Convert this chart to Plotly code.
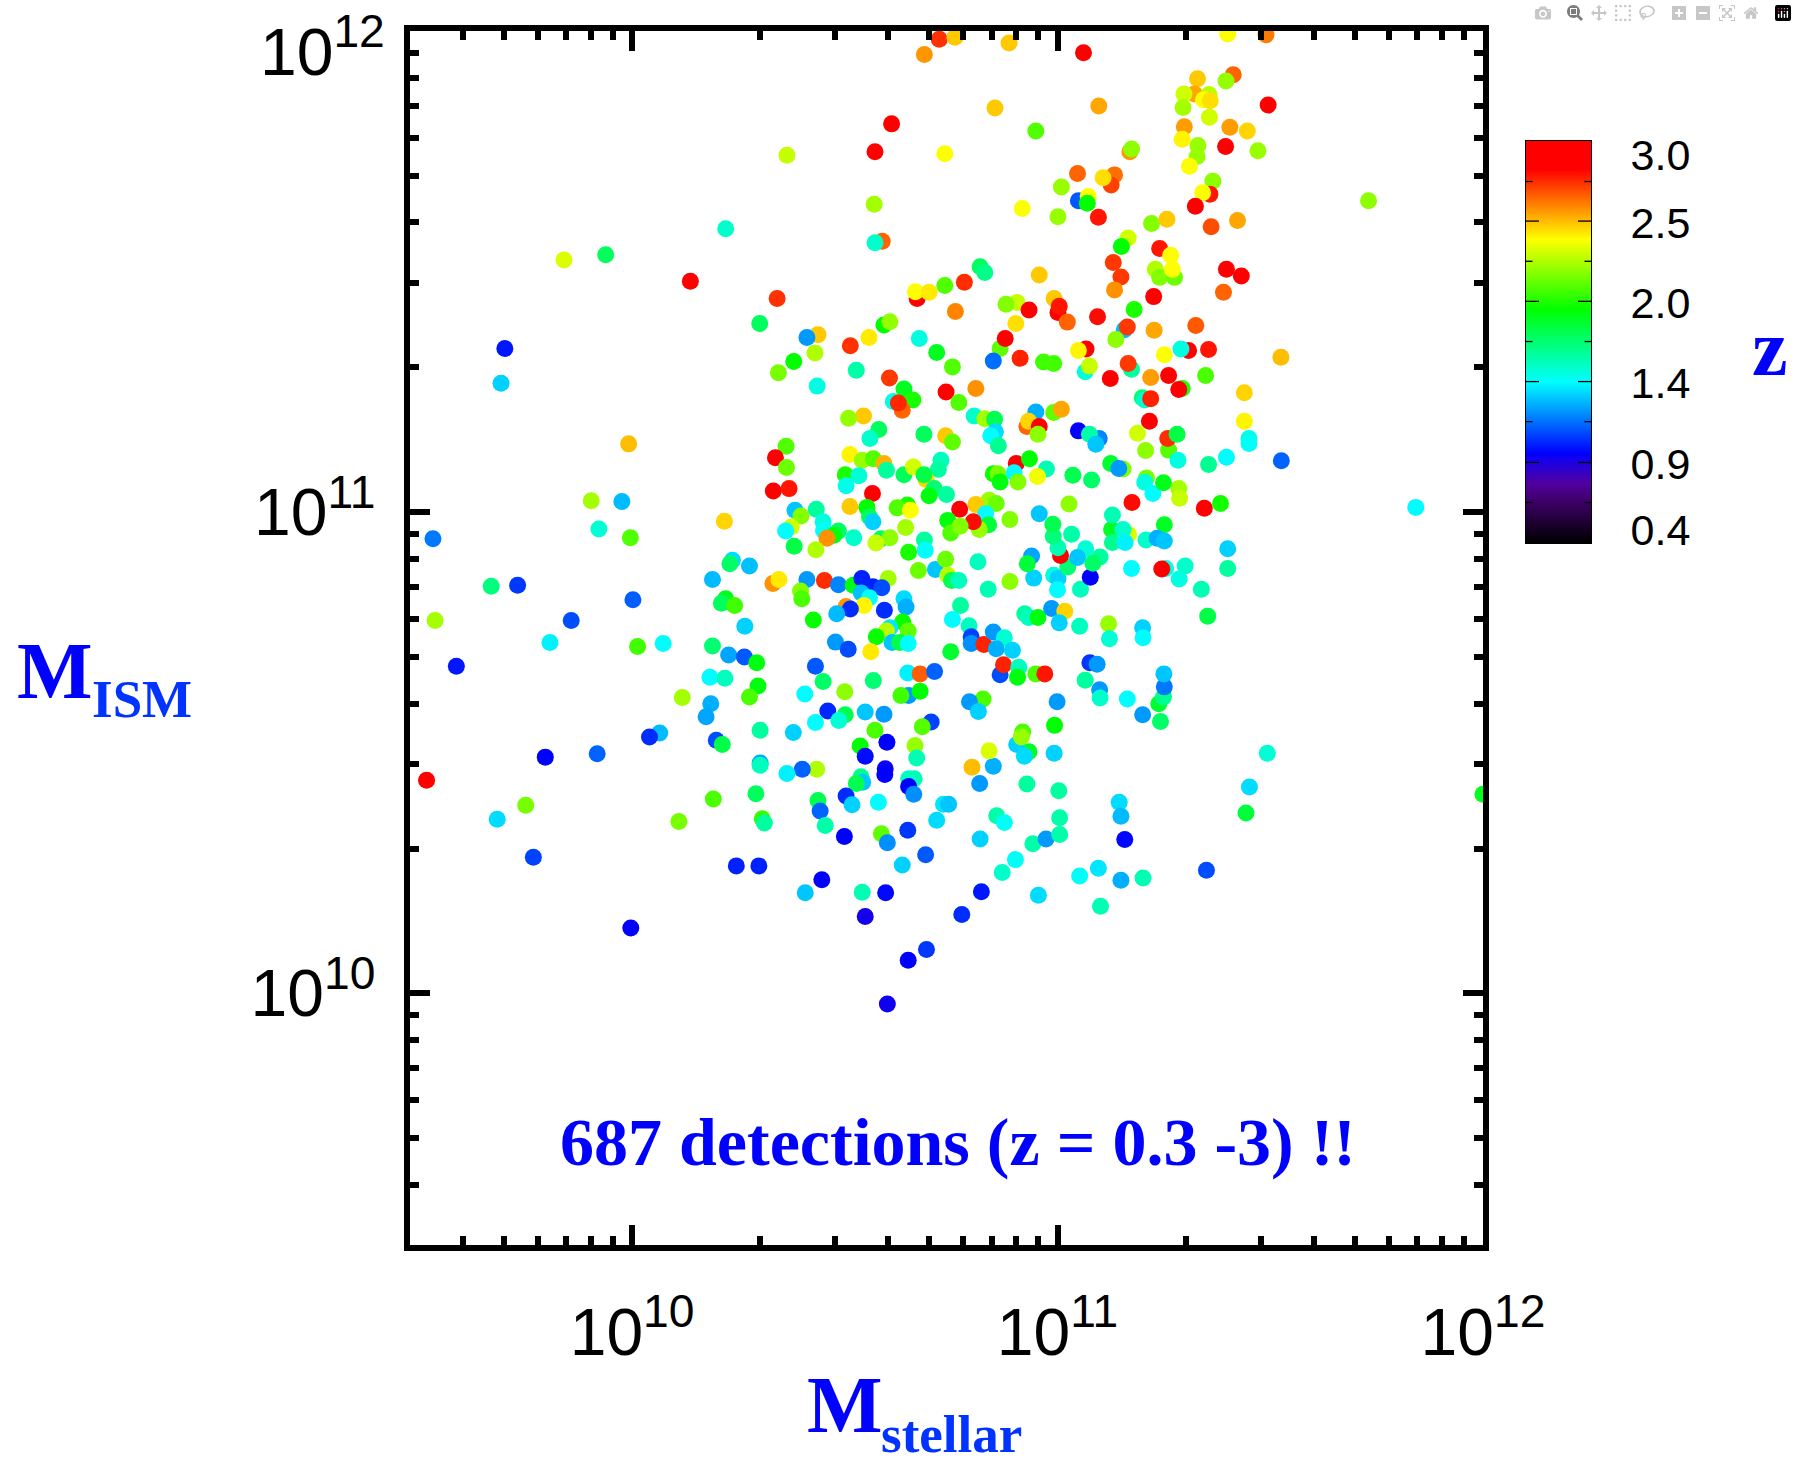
import math
import plotly.graph_objects as go

lm_ul = [10.722,10.759,10.687,10.610,10.571,10.735,10.364,10.569,10.220,10.588,
         10.571,9.938,9.840,10.137,10.341,10.670,10.666,10.698,10.735,10.300,
         10.592,10.606,10.437,10.411,10.513,10.557,10.675,10.760,9.701,10.430,
         10.380,10.344,10.527,9.692,10.435,10.716,10.753,10.605,10.639,10.660,
         10.614,10.635,10.626,10.738,10.768,10.544,10.509,10.580,10.559,10.686,
         10.737,10.753,9.992,10.362,10.337,10.363,10.512,10.541,10.567,10.592,
         10.598,10.726,10.720,10.501,10.533,10.503,10.639,10.661,10.691,10.686,
         10.710,10.698,10.739,10.332,10.369,10.565,9.904,9.976,10.383,10.433,
         10.397,10.512,10.552,10.558,10.647,10.623,10.654,10.770]
li_ul = [11.983,11.987,11.951,11.807,11.749,11.745,11.742,11.640,11.589,11.563,
         11.560,11.535,11.524,11.480,11.444,11.444,11.458,11.457,11.471,11.392,
         11.389,11.396,11.369,11.363,11.346,11.363,11.361,11.417,11.340,11.331,
         11.313,11.290,11.295,11.268,11.262,11.332,11.302,11.279,11.256,11.233,
         11.230,11.212,11.227,11.250,11.228,11.200,11.195,11.172,11.153,11.162,
         11.159,11.146,11.142,11.137,11.113,11.093,11.120,11.108,11.111,11.101,
         11.087,11.108,11.089,11.078,11.076,11.055,11.078,11.094,11.068,11.078,
         11.049,11.034,11.037,11.044,11.049,11.039,11.024,11.022,11.004,11.006,
         10.992,11.012,11.010,10.990,11.015,11.009,11.004,11.006]
z_ul = [2.73,2.46,2.55,2.85,2.85,2.36,2.26,2.20,1.54,2.64,
        1.54,1.74,2.30,2.85,2.73,2.85,2.36,2.40,2.05,1.74,
        1.91,2.17,2.46,1.26,2.73,2.40,1.50,2.58,1.02,2.22,
        1.91,2.12,1.60,1.36,1.50,1.85,2.05,2.72,1.85,1.95,
        1.48,2.64,2.75,2.85,2.05,2.46,2.17,1.74,1.54,1.74,
        2.46,2.08,2.48,2.05,2.85,2.10,2.38,2.18,2.05,2.50,
        1.62,1.56,1.62,1.95,1.52,1.48,1.74,2.28,2.44,1.78,
        1.70,1.88,1.62,2.85,2.78,2.85,2.20,1.32,1.34,1.62,
        2.14,2.46,1.91,1.74,1.95,2.05,2.36,2.85]

lm_ll = [9.532,9.922,9.996,9.669,9.731,10.002,9.537,9.857,9.807,10.013,
         10.073,9.587,9.517,9.796,9.918,9.683,9.750,9.768,9.997,10.217,
         10.449,10.374,10.361,10.450,10.485,10.474,10.458,10.381,10.432,10.521,
         10.566,10.585,10.606,10.573,10.643,10.687,10.689,10.650,10.673,10.713,
         10.737,10.742,10.751,10.768,10.742,10.749,10.236,10.230,10.276,10.189,
         10.331,10.345,10.411,10.452,10.485,10.520,10.540,10.566,10.602,10.587,
         10.396,10.399,10.539,10.558,10.503,10.545,10.513,10.593,10.481,10.639,
         10.644,10.772,10.753,10.220,10.210,10.241,10.265,10.426,10.636,10.606,
         10.598,10.649,10.574,10.611,10.629,10.649,10.478,10.508,10.561,10.749,
         10.189,10.227,10.264,10.293,10.183,10.218,10.431,10.449,10.500,10.567,
         10.296,10.276,10.118,10.406,10.185,10.174,10.650,10.648,10.677,10.711,
         10.632,10.677,10.460,10.501,10.486,10.431,10.548,10.592,10.703,10.682,
         10.571,10.301,10.379,10.065,10.041,10.198,10.212,10.599,10.665,10.536,
         10.548,10.669,10.301,10.301,10.595,10.594,10.434,10.400,10.364,10.538,
         10.542,10.527,10.663,10.650,10.650,10.291,10.191,10.437,10.442,10.503,
         10.517,10.579,10.662,10.732,10.744,10.716,10.110,10.306,10.311,10.454,
         10.586,10.600,10.499,10.648,10.690,10.635,10.245,10.298,10.446,10.407,
         10.541,10.596,10.548,10.649,10.692,10.600]
li_ll = [10.945,10.965,10.947,10.846,10.848,10.818,10.775,10.775,10.729,10.721,
         10.727,10.680,10.443,10.491,10.498,10.362,10.391,10.283,10.136,10.981,
         10.980,10.969,10.961,10.962,10.961,10.952,10.946,10.929,10.922,10.947,
         10.980,10.945,10.947,10.936,10.968,10.942,10.921,10.917,10.879,10.881,
         10.902,10.869,10.858,10.858,10.983,10.957,10.900,10.893,10.888,10.860,
         10.852,10.860,10.860,10.858,10.849,10.848,10.862,10.845,10.862,10.843,
         10.836,10.820,10.832,10.822,10.804,10.806,10.799,10.796,10.789,10.820,
         10.803,10.806,10.777,10.820,10.811,10.806,10.763,10.776,10.772,10.760,
         10.753,10.753,10.741,10.729,10.729,10.727,10.730,10.715,10.710,10.710,
         10.722,10.703,10.699,10.687,10.657,10.655,10.680,10.648,10.627,10.650,
         10.639,10.616,10.615,10.622,10.602,10.575,10.619,10.666,10.664,10.669,
         10.619,10.628,10.587,10.579,10.567,10.563,10.585,10.580,10.564,10.554,
         10.547,10.547,10.542,10.541,10.533,10.526,10.517,10.522,10.515,10.514,
         10.493,10.489,10.479,10.474,10.467,10.455,10.466,10.466,10.457,10.450,
         10.439,10.436,10.446,10.446,10.430,10.415,10.404,10.401,10.379,10.410,
         10.392,10.397,10.414,10.393,10.393,10.360,10.357,10.363,10.354,10.349,
         10.332,10.313,10.326,10.339,10.288,10.267,10.265,10.265,10.236,10.209,
         10.210,10.209,10.160,10.069,10.091,9.978]
z_ll = [1.20,1.52,2.05,1.68,1.08,1.15,2.20,1.12,1.42,2.02,
        1.45,1.02,2.85,0.98,1.16,1.38,2.12,1.10,0.98,2.44,
        1.50,2.28,1.44,1.46,1.72,1.88,2.56,1.78,2.22,1.54,
        1.36,1.72,2.16,2.26,2.20,1.62,1.44,1.95,2.10,1.34,
        2.10,2.24,1.76,1.56,1.88,2.05,1.38,1.72,1.33,1.32,
        2.56,2.40,1.26,2.74,1.22,1.88,1.04,1.04,2.20,1.12,
        2.14,2.04,1.33,1.44,2.55,2.38,1.06,1.06,1.32,1.38,
        1.30,1.62,1.44,1.86,1.74,2.02,1.36,1.92,1.92,1.40,
        2.24,2.08,1.92,1.34,1.78,1.44,1.26,1.12,2.40,1.82,
        1.70,1.28,1.14,1.88,1.44,1.56,1.14,1.72,2.16,1.70,
        1.88,2.04,2.20,1.44,1.30,1.28,1.26,1.42,2.65,1.16,
        2.02,1.90,1.05,1.76,1.52,1.44,1.34,1.26,1.10,2.06,
        2.04,1.62,1.36,1.32,1.06,1.12,1.78,0.98,2.18,1.90,
        1.00,1.58,1.28,1.56,0.96,0.98,2.22,1.16,1.42,1.64,
        1.34,1.76,1.58,1.56,0.98,1.74,2.04,1.76,1.16,1.06,
        1.36,1.44,1.24,1.40,1.34,1.38,2.12,2.00,1.62,1.60,
        2.08,1.24,0.98,1.08,1.14,1.36,1.04,1.04,0.98,1.34,
        1.58,0.99,0.94,0.98,1.08,0.95]

lm_ur = [10.886,11.061,11.400,11.490,11.413,11.396,11.329,11.322,11.356,11.297,
         11.343,11.359,11.295,11.357,10.853,11.097,11.495,10.949,11.298,11.405,
         11.446,11.293,11.330,11.395,11.471,11.328,11.310,11.170,11.174,11.047,
         11.134,11.126,11.107,11.009,11.365,11.358,11.341,11.324,11.731,11.049,
         11.072,11.070,10.917,11.001,11.096,11.221,11.257,11.423,11.361,11.166,
         11.150,11.240,11.266,11.131,11.149,11.230,11.240,11.275,11.270,11.397,
         11.432,10.818,10.829,10.781,10.957,11.134,11.390,10.992,11.001,11.004,
         11.023,11.226,10.905,10.879,10.933,11.180,11.094,10.902,11.325,11.157,
         11.164,11.227,10.865,10.877,11.137,11.067,11.049,11.308,11.290,11.355,
         11.251,11.525,10.849,10.912,10.967,10.991,11.065,11.075,11.174,11.166,
         11.219,11.124,11.261,11.348,10.808,11.293,11.285,11.439,10.804,10.829,
         10.852,11.199,11.205,11.219,10.949,10.991,11.009,10.928,10.932,10.957,
         10.954,10.854,10.843,10.861,11.216,11.439,11.049,11.098,11.075,11.090,
         11.188,11.207,11.261,11.259,11.281,11.283,11.355,11.397,11.450,11.450,
         11.526,10.903,10.934,10.974,10.953,10.849,10.860,10.898,10.865,10.907,
         11.036,11.080,11.125,11.154,11.144,11.209,11.205,11.224,11.249,11.285,
         11.287,10.839,10.856,10.808,10.831,11.027,11.175,11.345,11.383,11.842,
         10.957]
li_ur = [11.975,11.955,11.994,11.992,11.909,11.896,11.901,11.869,11.868,11.869,
         11.857,11.855,11.841,11.821,11.840,11.844,11.846,11.792,11.801,11.800,
         11.792,11.775,11.762,11.760,11.751,11.739,11.719,11.749,11.755,11.704,
         11.701,11.680,11.695,11.676,11.688,11.661,11.664,11.636,11.647,11.647,
         11.656,11.642,11.631,11.614,11.613,11.600,11.609,11.606,11.593,11.570,
         11.552,11.548,11.534,11.519,11.489,11.505,11.488,11.488,11.505,11.505,
         11.491,11.510,11.498,11.478,11.493,11.462,11.457,11.444,11.415,11.428,
         11.395,11.448,11.436,11.432,11.420,11.421,11.406,11.392,11.388,11.379,
         11.385,11.378,11.340,11.361,11.359,11.339,11.336,11.336,11.339,11.338,
         11.327,11.322,11.314,11.320,11.312,11.309,11.292,11.304,11.297,11.309,
         11.280,11.278,11.284,11.284,11.257,11.257,11.255,11.248,11.200,11.194,
         11.193,11.238,11.233,11.236,11.208,11.207,11.214,11.178,11.189,11.178,
         11.162,11.167,11.159,11.138,11.189,11.189,11.169,11.153,11.162,11.141,
         11.164,11.128,11.129,11.153,11.162,11.108,11.099,11.114,11.153,11.143,
         11.107,11.101,11.111,11.090,11.074,11.080,11.080,11.082,11.063,11.063,
         11.077,11.067,11.101,11.090,11.091,11.071,11.062,11.039,11.061,11.049,
         11.029,11.025,11.018,11.016,10.997,11.017,11.020,11.008,11.018,11.010,
         10.997]
z_ur = [2.46,2.85,2.36,2.60,2.64,2.17,2.46,2.52,2.24,2.28,
        2.36,2.42,2.20,2.28,2.46,2.52,2.85,2.05,2.54,2.54,
        2.44,2.38,2.18,2.85,2.18,2.18,2.36,2.55,2.16,2.64,
        2.62,2.70,2.42,2.18,2.16,2.78,2.36,2.85,2.16,1.14,
        2.36,1.91,2.36,2.18,2.78,2.14,2.46,2.52,2.68,2.28,
        1.90,2.78,2.36,2.72,2.72,2.22,2.14,2.10,2.36,2.82,
        2.85,1.74,1.66,2.74,2.46,2.56,2.64,2.46,2.85,2.78,
        2.64,2.85,2.26,2.14,2.85,1.95,2.80,2.42,2.66,1.32,
        2.72,2.52,2.08,2.85,2.16,2.82,2.38,2.85,1.50,2.78,
        2.36,2.48,1.18,2.76,2.02,2.02,1.52,2.26,1.62,2.72,
        2.54,2.85,2.85,2.04,2.56,1.96,2.85,2.44,1.54,2.20,
        1.76,1.70,1.54,2.76,1.30,2.08,2.52,2.64,2.44,2.85,
        2.16,1.38,1.44,1.64,2.85,2.38,0.98,1.22,1.60,1.34,
        2.28,2.16,2.06,2.74,1.78,1.50,1.64,1.44,1.48,1.46,
        1.16,2.82,1.90,1.58,2.34,1.92,2.12,1.44,1.88,2.14,
        1.76,1.72,1.82,2.14,1.26,2.12,1.50,1.44,1.86,2.20,
        2.26,2.18,2.10,2.46,1.44,2.16,2.80,2.85,1.94,1.44,
        1.34]

lm_lr = [10.775,10.821,10.955,11.101,11.350,10.870,10.901,11.052,11.096,11.149,
         11.201,10.818,10.942,10.973,11.005,11.158,10.857,10.875,11.005,11.145,
         11.149,11.443,12.000,11.451,11.493,10.817,10.928,11.003,10.799,10.849,
         10.839,10.933,10.904,10.922,10.992,10.918,10.915,10.993,10.825,10.793,
         10.814,10.999,11.200,11.242,11.238,11.249,11.251,11.250,11.099,11.100,
         11.164,11.065,10.865,10.873,10.909,10.906,10.949,10.970,11.076,11.093,
         10.792,10.797,10.797,10.827,10.849,10.875,10.856,10.894,10.923,10.932,
         10.954,10.986,11.017,11.004,11.052,11.120,11.122,11.200,11.201,11.353,
         10.837,10.888,10.944,10.991,11.001,11.000,11.054,11.077,10.813,10.939,
         10.929,11.024,11.007,11.001,10.990,10.989,11.033,11.066,11.100,11.047,
         11.083,11.174,11.254,11.245,11.300,11.286,11.338,11.400,11.400,11.251,
         11.208,11.234,11.251,11.167,11.127,11.154,11.129,11.159,11.129,10.888,
         10.838,10.816,10.802,10.771]
li_lr = [10.164,10.211,10.204,10.181,10.256,10.251,10.278,10.244,10.260,10.235,
         10.240,10.321,10.311,10.321,10.330,10.320,10.369,10.355,10.365,10.397,
         10.368,10.375,10.414,10.429,10.499,10.436,10.435,10.421,10.470,10.472,
         10.504,10.502,10.517,10.493,10.499,10.543,10.533,10.557,10.612,10.606,
         10.586,10.606,10.579,10.565,10.602,10.616,10.637,10.664,10.631,10.614,
         10.612,10.651,10.662,10.683,10.678,10.657,10.664,10.664,10.687,10.684,
         10.764,10.741,10.727,10.725,10.751,10.739,10.716,10.713,10.789,10.781,
         10.781,10.800,10.794,10.770,10.763,10.768,10.737,10.760,10.739,10.784,
         10.840,10.856,10.863,10.869,10.862,10.839,10.840,10.865,10.897,10.909,
         10.893,10.886,10.910,10.926,10.950,10.975,10.954,10.924,10.907,10.906,
         10.894,10.883,10.883,10.882,10.888,10.861,10.840,10.924,10.883,10.974,
         10.942,10.946,10.940,10.954,10.964,10.964,10.937,10.937,10.994,10.985,
         10.974,10.964,10.980,10.971]
z_lr = [1.06,1.02,1.38,1.58,1.12,1.54,1.46,1.46,1.40,1.30,
        1.58,1.36,1.60,1.26,1.60,0.99,1.60,1.46,1.60,1.38,
        1.32,1.80,1.86,1.38,1.52,1.26,1.62,1.62,2.48,1.30,
        2.30,1.84,1.36,1.38,1.36,2.04,2.18,1.90,2.04,1.26,
        1.36,1.26,1.26,1.72,1.82,1.64,1.20,1.34,1.26,1.54,
        1.44,1.62,1.12,2.76,1.56,1.88,2.04,2.78,1.08,1.26,
        1.56,1.10,1.24,2.76,1.26,1.52,1.30,1.36,1.62,1.56,
        1.88,1.26,2.44,1.36,1.56,2.18,1.52,1.36,1.44,1.78,
        1.58,2.16,1.36,1.50,1.36,1.44,1.56,0.98,1.56,1.28,
        1.80,1.70,2.85,1.58,1.68,1.76,1.60,1.52,1.62,1.34,
        1.72,1.44,1.50,2.85,1.54,1.50,1.58,1.36,1.62,1.84,
        1.54,1.30,1.34,2.30,1.84,1.54,1.64,1.42,1.58,2.14,
        1.80,2.18,2.80,2.14]

x_tick_values = [1e10, 1e11, 1e12]
x_tick_labels = ["10<sup>10</sup>", "10<sup>11</sup>", "10<sup>12</sup>"]
y_tick_values = [1e10, 1e11]
y_tick_labels = ["10<sup>10</sup>", "10<sup>11</sup>"]
minor_tick_values = [m * 10.0**e for e in (9, 10, 11) for m in range(2, 10) if 3e9 <= m * 10.0**e]

z_label_values = [2.913, 2.471, 1.952, 1.433, 0.914, 0.482]
z_label_text = ["3.0", "2.5", "2.0", "1.4", "0.9", "0.4"]
z_major_ticks = [2.482, 1.963, 1.444, 0.921]
z_minor_ticks = [2.738, 2.222, 1.703, 1.185, 0.662]

log_mstellar = lm_ul + lm_ll + lm_ur + lm_lr
log_mism = li_ul + li_ll + li_ur + li_lr
redshift = z_ul + z_ll + z_ur + z_lr
assert len(log_mstellar) == len(log_mism) == len(redshift), (len(log_mstellar), len(log_mism), len(redshift))
for a, b, c in ((lm_ul, li_ul, z_ul), (lm_ll, li_ll, z_ll), (lm_ur, li_ur, z_ur), (lm_lr, li_lr, z_lr)):
    assert len(a) == len(b) == len(c), (len(a), len(b), len(c))

Z_MIN, Z_MAX = 0.4, 3.0
colorscale = [
    [0.0, "rgb(0,0,0)"], [0.10, "rgb(60,0,100)"], [0.148, "rgb(80,0,160)"],
    [0.20, "rgb(30,0,225)"], [0.223, "rgb(0,0,255)"], [0.4015, "rgb(0,255,255)"],
    [0.58, "rgb(0,255,0)"], [0.755, "rgb(255,255,0)"], [0.93, "rgb(255,0,0)"],
    [1.0, "rgb(255,0,0)"],
]

W, H = 1797, 1462
px = lambda v: v / W
py = lambda v: 1 - v / H

fig = go.Figure()
fig.add_trace(go.Scatter(
    x=[10**v for v in log_mstellar], y=[10**v for v in log_mism], mode="markers",
    marker=dict(size=17, color=redshift, colorscale=colorscale, cmin=Z_MIN, cmax=Z_MAX,
                showscale=False, line=dict(width=0)),
    showlegend=False, hoverinfo="skip",
))
ramp = [Z_MIN + i * (Z_MAX - Z_MIN) / 400 for i in range(401)]
fig.add_trace(go.Heatmap(
    x=[0.5], y=ramp, z=[[v] for v in ramp], xaxis="x2", yaxis="y2",
    colorscale=colorscale, zmin=Z_MIN, zmax=Z_MAX, showscale=False, hoverinfo="skip",
))

axis_common = dict(
    type="log", showline=True, linewidth=6, linecolor="black", mirror="allticks",
    ticks="inside", ticklen=20, tickwidth=6, tickcolor="black", showgrid=False, zeroline=False,
    tickmode="array", tickfont=dict(family="Liberation Sans", size=66, color="black"),
    minor=dict(ticks="inside", ticklen=9, tickwidth=6, tickcolor="black", tickmode="array",
               tickvals=minor_tick_values, showgrid=False),
)
shapes = []
for v, frac in [(t, 0.2) for t in z_major_ticks] + [(t, 0.1) for t in z_minor_ticks]:
    for a, b in ((0, frac), (1 - frac, 1)):
        shapes.append(dict(type="line", xref="x2", yref="y2", x0=a, x1=b, y0=v, y1=v,
                           line=dict(color="black", width=1.3), layer="above"))

def label(text, x, y, size, color, family="Liberation Serif", bold=True, xanchor="left", yanchor="bottom"):
    content = f"<b>{text}</b>" if bold else text
    return dict(text=content, x=px(x), y=py(y), xref="paper", yref="paper", showarrow=False,
                xanchor=xanchor, yanchor=yanchor, font=dict(family=family, size=size, color=color),
                borderpad=0, borderwidth=0)

annotations = [
    label("M", 807, 1449, 80, "#0000ff"),
    label("stellar", 881, 1463, 53, "#0033ff"),
    label("M", 17, 715, 80, "#0000ff"),
    label("ISM", 92, 728, 53, "#0033ff"),
    label("z", 1752, 392, 80, "#0000ff"),
    label("687 detections (z = 0.3 -3) !!", 560, 1180, 68, "#0000ff"),
    label("10<sup>12</sup>", 385, 47, 66, "black", family="Liberation Sans", bold=False,
          xanchor="right", yanchor="middle"),
]

fig.update_layout(
    width=W, height=H, margin=dict(l=0, r=0, t=0, b=0, autoexpand=False),
    paper_bgcolor="white", plot_bgcolor="white", showlegend=False,
    xaxis=dict(domain=[px(409.6), px(1483)], range=[math.log10(3e9), 12],
               tickvals=x_tick_values, ticktext=x_tick_labels, ticklabelstandoff=25, **axis_common),
    yaxis=dict(domain=[py(1245), py(31)], range=[math.log10(3e9), 12],
               tickvals=y_tick_values, ticktext=y_tick_labels, ticklabelstandoff=15, **axis_common),
    xaxis2=dict(domain=[px(1526), px(1591)], range=[0, 1], anchor="y2", showticklabels=False,
                ticks="", showline=True, linewidth=1, linecolor="black", mirror=True,
                showgrid=False, zeroline=False),
    yaxis2=dict(domain=[py(543), py(141)], range=[Z_MIN, Z_MAX], anchor="x2", side="right",
                tickmode="array", tickvals=z_label_values, ticktext=z_label_text, ticks="",
                ticklabelstandoff=30, tickfont=dict(family="Liberation Sans", size=43, color="black"),
                showline=True, linewidth=1, linecolor="black", mirror=True,
                showgrid=False, zeroline=False),
    shapes=shapes, annotations=annotations,
)
fig.write_html("out.html", post_script='document.body.style.margin="0";')
